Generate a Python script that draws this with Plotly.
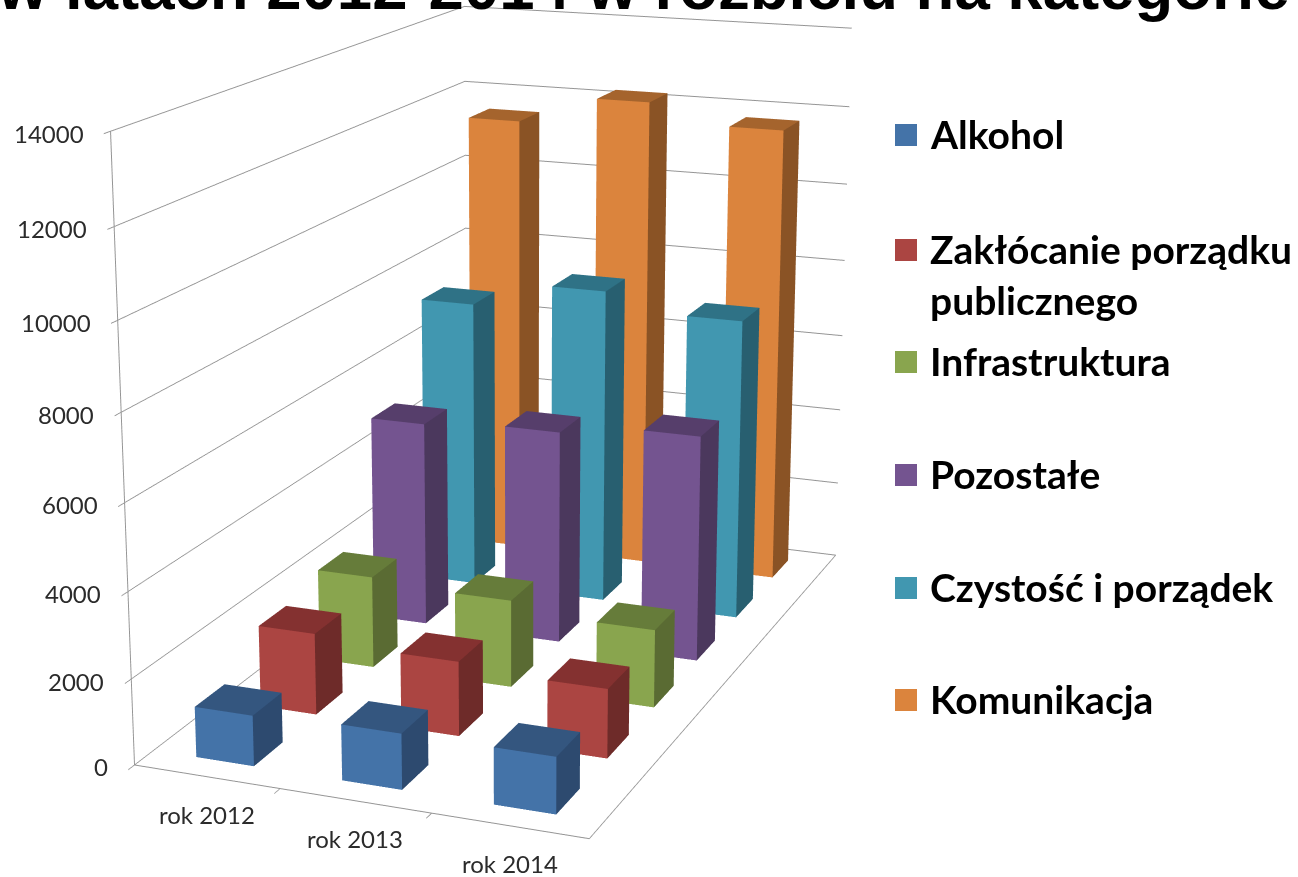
import plotly.graph_objects as go

categories = ["rok 2012", "rok 2013", "rok 2014"]
series_names = ["Alkohol", "Zakłócanie porządku<br>publicznego", "Infrastruktura",
                "Pozostałe", "Czystość i porządek", "Komunikacja"]
alkohol = [1180, 1290, 1300]
zaklocanie = [1950, 1770, 1630]
infrastruktura = [2250, 2130, 1880]
pozostale = [5130, 5300, 5580]
czystosc = [7380, 8030, 7600]
komunikacja = [11480, 12200, 11720]
series_values = [alkohol, zaklocanie, infrastruktura, pozostale, czystosc, komunikacja]
front_colors = ["#4473A8", "#AB4542", "#89A54E", "#745490", "#4197B0", "#DB843D"]
top_colors = ["#34567F", "#843130", "#667C3A", "#563E6B", "#2F7286", "#A5642D"]
side_colors = ["#2D4A6F", "#6E2B29", "#5A6B33", "#4B385D", "#285F70", "#8A5325"]
z_ticks = [0, 2000, 4000, 6000, 8000, 10000, 12000, 14000]

W, FH = 1298, 2400
SHIFT = 830
GRID = "#959595"
xfrac, yfrac = 0.40, 0.45
fig = go.Figure()


def py(px):
    return 1 - (px + SHIFT) / FH


for s, vals in enumerate(series_values):
    for c, v in enumerate(vals):
        x0, x1 = c + .5 - xfrac / 2, c + .5 + xfrac / 2
        y0, y1 = s + .5 - yfrac / 2, s + .5 + yfrac / 2
        xs = [x0, x1, x1, x0, x0, x1, x1, x0]
        ys = [y0, y0, y1, y1, y0, y0, y1, y1]
        zs = [0, 0, 0, 0, v, v, v, v]
        tri = [(0, 1, 5, 'f'), (0, 5, 4, 'f'), (1, 2, 6, 's'), (1, 6, 5, 's'), (4, 5, 6, 't'), (4, 6, 7, 't')]
        cmap = {'f': front_colors[s], 's': side_colors[s], 't': top_colors[s]}
        fig.add_trace(go.Mesh3d(x=xs, y=ys, z=zs, i=[t[0] for t in tri], j=[t[1] for t in tri],
                                k=[t[2] for t in tri], facecolor=[cmap[t[3]] for t in tri],
                                flatshading=True, lighting=dict(ambient=1, diffuse=0, specular=0, fresnel=0),
                                showscale=False, hoverinfo="skip"))

nc, ns = len(categories), len(series_names)
zmax = z_ticks[-1]

annots3d = [dict(x=0, y=0, z=z, text=str(z), showarrow=False, xanchor="right", xshift=-25, yshift=-2,
                 font=dict(family="Lato", size=24, color="#2b2b2b")) for z in z_ticks]
annots3d += [dict(x=c + .5, y=0, z=0, text=t, showarrow=False, yshift=-38, xanchor="center",
                  font=dict(family="Lato", size=24, color="#2b2b2b")) for c, t in enumerate(categories)]

ax = dict(showgrid=False, zeroline=False, showticklabels=False, showbackground=False, showspikes=False,
          showline=True, linecolor=GRID, linewidth=2, ticks="outside", tickcolor=GRID, tickwidth=2, ticklen=12,
          title=dict(text=""))
D = 4.9
fig.update_layout(
    width=W, height=FH, margin=dict(l=0, r=0, t=0, b=0), showlegend=False, paper_bgcolor="white",
    scene=dict(
        domain=dict(x=[0, 0.80], y=[0, 1]),
        xaxis=dict(ax, range=[0, nc], tickvals=list(range(1, nc))),
        yaxis=dict(ax, range=[0, ns], ticks="", tickvals=[]),
        zaxis=dict(ax, range=[0, zmax + 1], tickvals=z_ticks, showgrid=True, gridcolor=GRID, gridwidth=2),
        aspectmode="manual",
        aspectratio=dict(x=.76, y=1.38, z=1.01),
        camera=dict(eye=dict(x=.35 * D, y=-.90 * D, z=.265 * D), up=dict(x=0, y=0, z=1),
                    center=dict(x=0, y=0, z=0)),
        annotations=annots3d,
    ),
)

legend_y = [135, 250, 362, 475, 588, 700]
for name, col, ypx in zip(series_names, front_colors, legend_y):
    fig.add_shape(type="rect", xref="paper", yref="paper", x0=895 / W, x1=917 / W,
                  y0=py(ypx + 11), y1=py(ypx - 11), fillcolor=col, line=dict(width=0))
    fig.add_annotation(xref="paper", yref="paper", x=928 / W, y=py(ypx - 26), yanchor="top", xanchor="left",
                       text=f"<b>{name}</b>", showarrow=False, align="left",
                       font=dict(family="Lato", size=39, color="black"))
fig.add_annotation(xref="paper", yref="paper", x=643 / W, y=py(24), yanchor="bottom", xanchor="center",
                   text="<b>w latach 2012-2014 w rozbiciu na kategorie</b>", showarrow=False,
                   font=dict(family="Liberation Sans", size=63.5, color="black"))
post = f"""
document.body.style.margin='0';
document.documentElement.style.overflow='hidden';
document.body.style.overflow='hidden';
document.getElementById('{{plot_id}}').style.marginTop='-{SHIFT}px';
"""
fig.write_html("out.html", post_script=post)
